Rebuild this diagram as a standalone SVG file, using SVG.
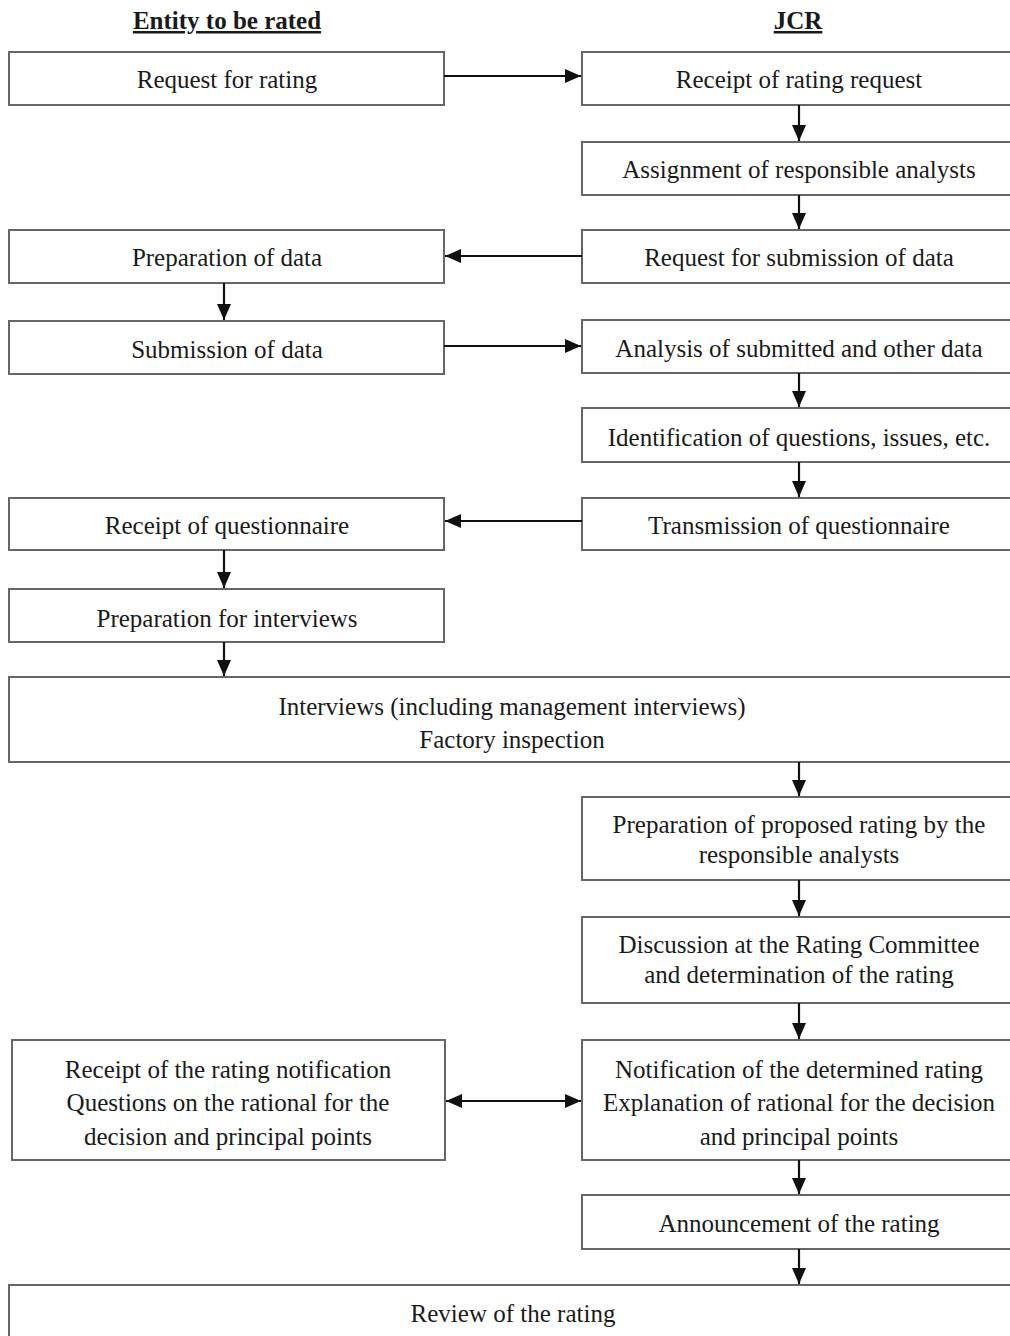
<svg xmlns="http://www.w3.org/2000/svg" width="1010" height="1336" viewBox="0 0 1010 1336">
  <style>
    .box { fill: #ffffff; stroke: #666666; stroke-width: 2; }
    .lbl { font-family: "Liberation Serif", "Times New Roman", serif; font-size: 25px; fill: #1a1a1a; text-anchor: middle; }
    .hdr { font-family: "Liberation Serif", "Times New Roman", serif; font-size: 25px; font-weight: bold; fill: #1a1a1a; text-anchor: middle; text-decoration: underline; }
    .conn { stroke: #111111; stroke-width: 2.2; fill: none; }
  </style>
  <defs>
    <marker id="arrow" viewBox="0 0 16 14" refX="16" refY="7" markerWidth="16" markerHeight="14" markerUnits="userSpaceOnUse" orient="auto-start-reverse">
      <path d="M0,0 L16,7 L0,14 Z" fill="#111111"/>
    </marker>
  </defs>
  <rect width="1010" height="1336" fill="#ffffff"/>

  <!-- column headings -->
  <text class="hdr" x="227" y="29">Entity to be rated</text>
  <text class="hdr" x="798" y="29">JCR</text>

  <!-- entity column -->
  <g id="request-for-rating">
    <rect class="box" x="9" y="52" width="435" height="53"/>
    <text class="lbl" x="227" y="88">Request for rating</text>
  </g>
  <g id="preparation-of-data">
    <rect class="box" x="9" y="230" width="435" height="53"/>
    <text class="lbl" x="227" y="266">Preparation of data</text>
  </g>
  <g id="submission-of-data">
    <rect class="box" x="9" y="321" width="435" height="53"/>
    <text class="lbl" x="227" y="358">Submission of data</text>
  </g>
  <g id="receipt-of-questionnaire">
    <rect class="box" x="9" y="498" width="435" height="52"/>
    <text class="lbl" x="227" y="534">Receipt of questionnaire</text>
  </g>
  <g id="preparation-for-interviews">
    <rect class="box" x="9" y="589" width="435" height="53"/>
    <text class="lbl" x="227" y="627">Preparation for interviews</text>
  </g>
  <g id="receipt-of-notification">
    <rect class="box" x="12" y="1040" width="433" height="120"/>
    <text class="lbl" x="228" y="1078">Receipt of the rating notification</text>
    <text class="lbl" x="228" y="1111">Questions on the rational for the</text>
    <text class="lbl" x="228" y="1145">decision and principal points</text>
  </g>

  <!-- JCR column -->
  <g id="receipt-of-rating-request">
    <rect class="box" x="582" y="52" width="440" height="53"/>
    <text class="lbl" x="799" y="88">Receipt of rating request</text>
  </g>
  <g id="assignment-of-analysts">
    <rect class="box" x="582" y="142" width="440" height="53"/>
    <text class="lbl" x="799" y="178">Assignment of responsible analysts</text>
  </g>
  <g id="request-for-submission">
    <rect class="box" x="582" y="230" width="440" height="53"/>
    <text class="lbl" x="799" y="266">Request for submission of data</text>
  </g>
  <g id="analysis-of-data">
    <rect class="box" x="582" y="320" width="440" height="53"/>
    <text class="lbl" x="799" y="357">Analysis of submitted and other data</text>
  </g>
  <g id="identification-of-questions">
    <rect class="box" x="582" y="408" width="440" height="54"/>
    <text class="lbl" x="799" y="446">Identification of questions, issues, etc.</text>
  </g>
  <g id="transmission-of-questionnaire">
    <rect class="box" x="582" y="498" width="440" height="52"/>
    <text class="lbl" x="799" y="534">Transmission of questionnaire</text>
  </g>
  <g id="preparation-of-proposed-rating">
    <rect class="box" x="582" y="797" width="440" height="83"/>
    <text class="lbl" x="799" y="833">Preparation of proposed rating by the</text>
    <text class="lbl" x="799" y="863">responsible analysts</text>
  </g>
  <g id="rating-committee">
    <rect class="box" x="582" y="917" width="440" height="86"/>
    <text class="lbl" x="799" y="953">Discussion at the Rating Committee</text>
    <text class="lbl" x="799" y="983">and determination of the rating</text>
  </g>
  <g id="notification-of-rating">
    <rect class="box" x="582" y="1040" width="440" height="120"/>
    <text class="lbl" x="799" y="1078">Notification of the determined rating</text>
    <text class="lbl" x="799" y="1111">Explanation of rational for the decision</text>
    <text class="lbl" x="799" y="1145">and principal points</text>
  </g>
  <g id="announcement">
    <rect class="box" x="582" y="1195" width="440" height="54"/>
    <text class="lbl" x="799" y="1232">Announcement of the rating</text>
  </g>

  <!-- spanning boxes -->
  <g id="interviews">
    <rect class="box" x="9" y="677" width="1013" height="85"/>
    <text class="lbl" x="512" y="715">Interviews (including management interviews)</text>
    <text class="lbl" x="512" y="748">Factory inspection</text>
  </g>
  <g id="review">
    <rect class="box" x="9" y="1285" width="1013" height="70"/>
    <text class="lbl" x="513" y="1322">Review of the rating</text>
  </g>

  <!-- connectors -->
  <g id="connectors">
    <line class="conn" x1="444" y1="76" x2="581" y2="76" marker-end="url(#arrow)"/>
    <line class="conn" x1="799" y1="105" x2="799" y2="141" marker-end="url(#arrow)"/>
    <line class="conn" x1="799" y1="195" x2="799" y2="229" marker-end="url(#arrow)"/>
    <line class="conn" x1="582" y1="256" x2="445" y2="256" marker-end="url(#arrow)"/>
    <line class="conn" x1="224" y1="283" x2="224" y2="320" marker-end="url(#arrow)"/>
    <line class="conn" x1="444" y1="346" x2="581" y2="346" marker-end="url(#arrow)"/>
    <line class="conn" x1="799" y1="373" x2="799" y2="407" marker-end="url(#arrow)"/>
    <line class="conn" x1="799" y1="462" x2="799" y2="497" marker-end="url(#arrow)"/>
    <line class="conn" x1="582" y1="521" x2="445" y2="521" marker-end="url(#arrow)"/>
    <line class="conn" x1="224" y1="550" x2="224" y2="588" marker-end="url(#arrow)"/>
    <line class="conn" x1="224" y1="642" x2="224" y2="676" marker-end="url(#arrow)"/>
    <line class="conn" x1="799" y1="762" x2="799" y2="796" marker-end="url(#arrow)"/>
    <line class="conn" x1="799" y1="880" x2="799" y2="916" marker-end="url(#arrow)"/>
    <line class="conn" x1="799" y1="1003" x2="799" y2="1039" marker-end="url(#arrow)"/>
    <line class="conn" x1="446" y1="1101" x2="581" y2="1101" marker-start="url(#arrow)" marker-end="url(#arrow)"/>
    <line class="conn" x1="799" y1="1160" x2="799" y2="1194" marker-end="url(#arrow)"/>
    <line class="conn" x1="799" y1="1249" x2="799" y2="1284" marker-end="url(#arrow)"/>
  </g>
</svg>
